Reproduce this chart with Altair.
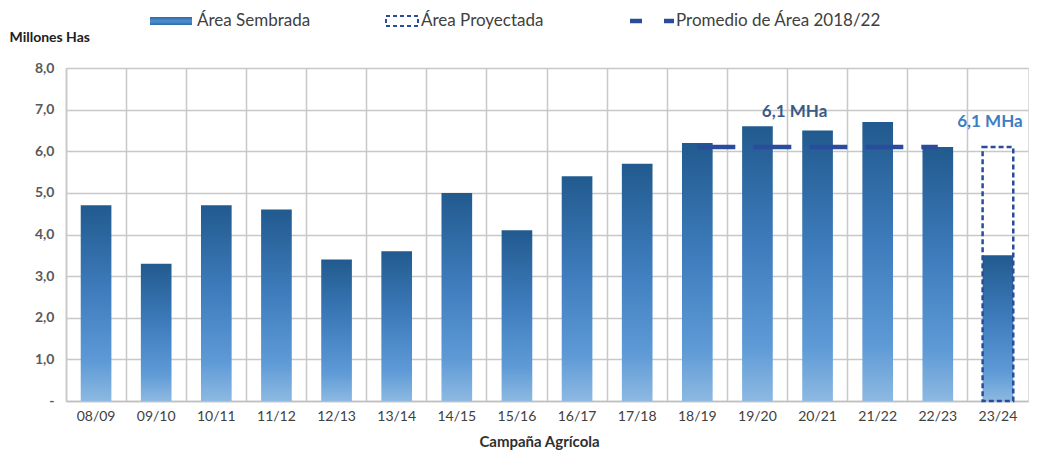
import altair as alt
import pandas as pd

# ---- data ----
campanas = ["08/09", "09/10", "10/11", "11/12", "12/13", "13/14", "14/15", "15/16",
            "16/17", "17/18", "18/19", "19/20", "20/21", "21/22", "22/23", "23/24"]
area_sembrada = [4.7, 3.3, 4.7, 4.6, 3.4, 3.6, 5.0, 4.1, 5.4, 5.7, 6.2, 6.6, 6.5, 6.7, 6.1, 3.5]
proyectada_campana = ["23/24"]
proyectada_valor = [6.1]
promedio_campanas = ["18/19", "19/20", "20/21", "21/22", "22/23"]
promedio_valor = 6.1
etiqueta_campanas = ["20/21", "23/24"]
etiqueta_valores = [6.1, 6.1]
etiqueta_textos = ["6,1 MHa", "6,1 MHa"]

W, H = 962, 333
STEP = W / len(campanas)
FONT = "Lato"

df = pd.DataFrame({"campana": campanas, "valor": area_sembrada})
df_proy = pd.DataFrame({"campana": proyectada_campana, "valor": proyectada_valor})
df_prom = pd.DataFrame({"campana": promedio_campanas, "valor": [promedio_valor] * len(promedio_campanas)})

grad = alt.Gradient(
    gradient="linear", x1=0, x2=0, y1=0, y2=1,
    stops=[alt.GradientStop(offset=0, color="#215A8E"),
           alt.GradientStop(offset=0.45, color="#3F7DBE"),
           alt.GradientStop(offset=0.8, color="#5E9AD6"),
           alt.GradientStop(offset=1, color="#8DB9E2")],
)

x_enc = alt.X(
    "campana:N", sort=campanas,
    scale=alt.Scale(domain=campanas, paddingInner=0, paddingOuter=0),
    axis=alt.Axis(
        title="Campaña  Agrícola", labelAngle=0, grid=True, bandPosition=0,
        ticks=False, labelPadding=8,
        labelColor="#404040", labelFontSize=14, labelFont=FONT,
        gridColor="#C8C8C8", gridWidth=1.5, domainColor="#BFBFBF", domainWidth=1.5,
        titleFont=FONT, titleFontSize=15, titleFontWeight="bold", titleColor="#303030",
        titleX=W / 2 - 8, titleY=40, titleBaseline="middle",
    ),
)
y_scale = alt.Scale(domain=[0, 8], nice=False)
y_enc = alt.Y(
    "valor:Q", scale=y_scale,
    axis=alt.Axis(
        title="Millones Has", values=[0, 1, 2, 3, 4, 5, 6, 7, 8],
        labelExpr="datum.value == 0 ? '-' : replace(format(datum.value, '.1f'), '.', ',')",
        ticks=False, labelPadding=12, labelColor="#595959", labelFontSize=14,
        labelFont=FONT, labelFontWeight="bold",
        gridColor="#C8C8C8", gridWidth=1.5, domainColor="#C8C8C8", domainWidth=1.5,
        titleAngle=0, titleX=-57, titleY=-31, titleAlign="left", titleBaseline="middle",
        titleFont=FONT, titleFontSize=14, titleFontWeight="bold", titleColor="#202020",
    ),
)

bars = alt.Chart(df).mark_bar(color=grad, width={"band": 0.51}).encode(x=x_enc, y=y_enc)

proy = alt.Chart(df_proy).mark_bar(
    filled=False, stroke="#2B4C9B", strokeWidth=2.5, strokeDash=[5, 3], width={"band": 0.51}
).encode(x=alt.X("campana:N", sort=campanas), y=alt.Y("valor:Q", scale=y_scale))

prom = alt.Chart(df_prom).mark_line(
    color="#2B4C9B", strokeWidth=4.5, strokeDash=[38, 18]
).encode(x=alt.X("campana:N", sort=campanas), y=alt.Y("valor:Q", scale=y_scale))

df_lab1 = pd.DataFrame({"campana": etiqueta_campanas[:1], "valor": etiqueta_valores[:1], "t": etiqueta_textos[:1]})
df_lab2 = pd.DataFrame({"campana": etiqueta_campanas[1:], "valor": etiqueta_valores[1:], "t": etiqueta_textos[1:]})
lab1 = alt.Chart(df_lab1).mark_text(
    font=FONT, fontSize=17, fontWeight="bold", color="#3B5A86", dx=-23, dy=-35
).encode(x=alt.X("campana:N", sort=campanas), y=alt.Y("valor:Q", scale=y_scale), text="t:N")
lab2 = alt.Chart(df_lab2).mark_text(
    font=FONT, fontSize=17, fontWeight="bold", color="#3D7DC4", dx=-8, dy=-25
).encode(x=alt.X("campana:N", sort=campanas), y=alt.Y("valor:Q", scale=y_scale), text="t:N")

# ---- legend (decoration) ----
LY = -47
one = pd.DataFrame({"a": [0]})
leg_sw1 = alt.Chart(one).mark_rect(color=alt.Gradient(
    gradient="linear", x1=0, x2=0, y1=0, y2=1,
    stops=[alt.GradientStop(offset=0, color="#2A6AA8"),
           alt.GradientStop(offset=0.5, color="#4F8FD0"),
           alt.GradientStop(offset=1, color="#2F6DAA")])).encode(
    x=alt.value(84), x2=alt.value(126), y=alt.value(LY - 4), y2=alt.value(LY + 4))
leg_sw2 = alt.Chart(one).mark_rect(
    filled=False, stroke="#2B4C9B", strokeWidth=2, strokeDash=[4, 3]).encode(
    x=alt.value(320), x2=alt.value(352), y=alt.value(LY - 5), y2=alt.value(LY + 5))
leg_sw3 = alt.Chart(one).mark_rule(
    color="#2B4C9B", strokeWidth=4.5, strokeDash=[12, 22]).encode(
    x=alt.value(564), x2=alt.value(608), y=alt.value(LY))

legend_texts = ["Área Sembrada", "Área Proyectada", "Promedio de Área 2018/22"]
legend_x = [131, 355, 610]
leg_txt = [
    alt.Chart(pd.DataFrame({"t": [t]})).mark_text(
        font=FONT, fontSize=17, color="#404040", align="left", baseline="middle"
    ).encode(x=alt.value(xx), y=alt.value(LY), text="t:N")
    for t, xx in zip(legend_texts, legend_x)
]

chart = alt.layer(bars, proy, prom, lab1, lab2, leg_sw1, leg_sw2, leg_sw3, *leg_txt).properties(
    width=W, height=H,
    padding={"left": 58, "top": 60, "right": 8, "bottom": 50},
    autosize=alt.AutoSizeParams(type="none"),
).configure_view(stroke="#C8C8C8", strokeWidth=1.5).configure(background="white")

chart.save("out.html", embed_options={"renderer": "svg", "actions": False})
